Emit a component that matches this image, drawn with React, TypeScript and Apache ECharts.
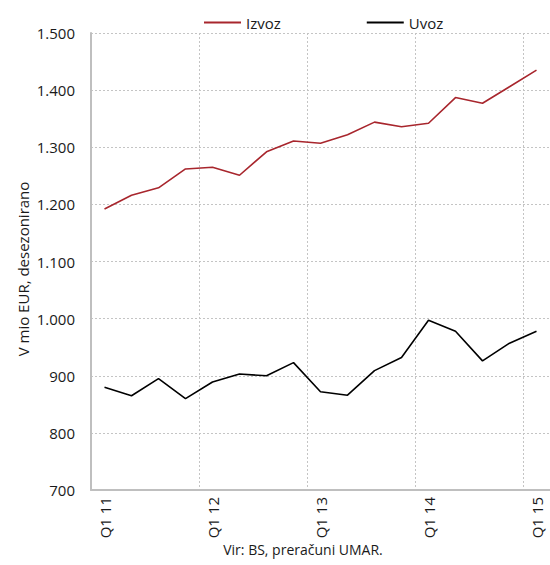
import React, { useEffect, useRef } from "react";
import * as echarts from "echarts";

const categories = [
  "Q1 11", "Q2 11", "Q3 11", "Q4 11",
  "Q1 12", "Q2 12", "Q3 12", "Q4 12",
  "Q1 13", "Q2 13", "Q3 13", "Q4 13",
  "Q1 14", "Q2 14", "Q3 14", "Q4 14",
  "Q1 15",
];
const izvoz = [1192, 1216, 1229, 1262, 1265, 1251, 1292, 1311, 1307, 1322, 1344, 1336, 1342, 1387, 1377, 1406, 1435];
const uvoz = [880, 865, 895, 860, 889, 903, 900, 923, 872, 866, 909, 932, 997, 978, 926, 957, 978];
const yMin = 700;
const yMax = 1500;
const yStep = 100;

const FONT = "'Open Sans', sans-serif";
const TXT = "#1a1a1a";

export default function App() {
  const ref = useRef<HTMLDivElement>(null);
  useEffect(() => {
    if (!ref.current) return;
    const chart = echarts.init(ref.current, undefined, { renderer: "svg" });
    chart.setOption({
      animation: false,
      backgroundColor: "#ffffff",
      textStyle: { fontFamily: FONT },
      legend: {
        top: 10,
        left: 199,
        itemGap: 86,
        itemWidth: 37,
        itemHeight: 2,
        icon: "rect",
        textStyle: { fontFamily: FONT, fontSize: 15, color: TXT },
        data: ["Izvoz", "Uvoz"],
      },
      grid: { left: 91, top: 33, right: -8, bottom: 75, containLabel: false },
      xAxis: {
        type: "category",
        data: categories,
        boundaryGap: true,
        axisLine: { show: true, lineStyle: { color: "#bfbfbf", width: 2 } },
        axisTick: { show: false },
        axisLabel: {
          interval: 3,
          rotate: 90,
          margin: 7,
          fontFamily: FONT,
          fontSize: 15,
          color: TXT,
        },
        splitLine: {
          show: true,
          interval: 3,
          lineStyle: { color: "#c4c4c4", type: [2, 2], width: 1 },
        },
      },
      yAxis: {
        type: "value",
        min: yMin,
        max: yMax,
        interval: yStep,
        axisLine: { show: true, lineStyle: { color: "#bfbfbf", width: 2 } },
        axisTick: { show: false },
        axisLabel: {
          margin: 16,
          fontFamily: FONT,
          fontSize: 15,
          color: TXT,
          formatter: (v: number) => v.toLocaleString("de-DE"),
        },
        splitLine: {
          show: true,
          lineStyle: { color: "#c4c4c4", type: [2, 2], width: 1 },
        },
      },
      series: [
        {
          name: "Izvoz",
          type: "line",
          data: izvoz,
          symbol: "none",
          itemStyle: { color: "#a8262d" },
          lineStyle: { color: "#a8262d", width: 1.6 },
        },
        {
          name: "Uvoz",
          type: "line",
          data: uvoz,
          symbol: "none",
          itemStyle: { color: "#000000" },
          lineStyle: { color: "#000000", width: 1.6 },
        },
      ],
      graphic: [
        {
          type: "text",
          x: 23,
          y: 269,
          rotation: Math.PI / 2,
          style: {
            text: "V mio EUR, desezonirano",
            fontFamily: FONT,
            fontSize: 15,
            fill: TXT,
            textAlign: "center",
            textVerticalAlign: "middle",
          },
        },
        {
          type: "text",
          x: 303,
          y: 549,
          style: {
            text: "Vir: BS, preračuni UMAR.",
            fontFamily: FONT,
            fontSize: 14,
            fill: TXT,
            textAlign: "center",
            textVerticalAlign: "middle",
          },
        },
      ],
    });
    return () => chart.dispose();
  }, []);
  return (
    <div
      ref={ref}
      style={{ position: "fixed", left: 0, top: 0, width: 550, height: 565 }}
    />
  );
}
